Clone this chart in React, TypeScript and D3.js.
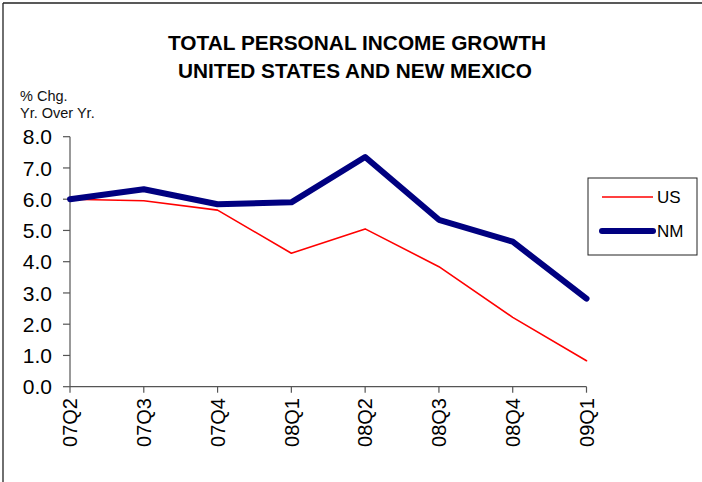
import React from "react";
import * as d3 from "d3";

const quarters = ["07Q2", "07Q3", "07Q4", "08Q1", "08Q2", "08Q3", "08Q4", "09Q1"];
const usValues = [6.0, 5.95, 5.65, 4.27, 5.05, 3.84, 2.22, 0.83];
const nmValues = [6.0, 6.32, 5.84, 5.9, 7.35, 5.34, 4.64, 2.82];
const yTicks = [0, 1, 2, 3, 4, 5, 6, 7, 8];
const titleLines = ["TOTAL PERSONAL INCOME GROWTH", "UNITED STATES AND NEW MEXICO"];
const seriesNames = ["US", "NM"];

const W = 702;
const H = 482;
const FONT = "'Liberation Sans', Arial, sans-serif";

export default function App() {
  const x = d3.scalePoint<string>().domain(quarters).range([70, 586.5]);
  const y = d3.scaleLinear().domain([0, 8]).range([386.7, 136.7]);
  const line = d3
    .line<number>()
    .x((_, i) => x(quarters[i]) as number)
    .y((d) => y(d));

  const series = [
    { name: seriesNames[0], values: usValues, color: "#FF0000", width: 1.6 },
    { name: seriesNames[1], values: nmValues, color: "#000080", width: 6 },
  ];

  return (
    <svg
      width={W}
      height={H}
      style={{ position: "absolute", left: 0, top: 0, background: "#fff" }}
      fontFamily={FONT}
    >
      <rect x={0} y={0} width={W} height={H} fill="#fff" />
      {/* frame */}
      <line x1={3} y1={3} x2={W} y2={3} stroke="#222" strokeWidth={1.3} />
      <line x1={3} y1={3} x2={3} y2={H} stroke="#222" strokeWidth={1.3} />

      {/* title */}
      <text x={357} y={50} textAnchor="middle" fontWeight="bold" fontSize={20} textLength={378} lengthAdjust="spacingAndGlyphs">
        {titleLines[0]}
      </text>
      <text x={355} y={78.3} textAnchor="middle" fontWeight="bold" fontSize={20} textLength={354} lengthAdjust="spacingAndGlyphs">
        {titleLines[1]}
      </text>

      {/* y axis caption */}
      <text x={20} y={101} fontSize={14.5} fill="#111">% Chg.</text>
      <text x={20} y={117.5} fontSize={14.5} fill="#111">Yr. Over Yr.</text>

      {/* y axis */}
      <line x1={70} y1={y(8)} x2={70} y2={y(0)} stroke="#555" strokeWidth={1.2} />
      {yTicks.map((t) => (
        <g key={t}>
          <line x1={63} x2={70} y1={y(t)} y2={y(t)} stroke="#555" strokeWidth={1.2} />
          <text x={52} y={y(t)} dy="0.36em" textAnchor="end" fontSize={21} fill="#000">
            {t.toFixed(1)}
          </text>
        </g>
      ))}

      {/* x axis */}
      <line x1={70} y1={y(0)} x2={586.5} y2={y(0)} stroke="#555" strokeWidth={1.2} />
      {quarters.map((q) => {
        const xv = x(q) as number;
        return (
          <g key={q}>
            <line x1={xv} x2={xv} y1={y(0)} y2={y(0) + 6} stroke="#555" strokeWidth={1.2} />
            <text
              transform={`translate(${xv},${398}) rotate(-90)`}
              dy="0.36em"
              textAnchor="end"
              fontSize={20}
              fill="#000"
            >
              {q}
            </text>
          </g>
        );
      })}

      {/* series */}
      {series.map((s) => (
        <path
          key={s.name}
          d={line(s.values) || ""}
          fill="none"
          stroke={s.color}
          strokeWidth={s.width}
          strokeLinejoin="round"
          strokeLinecap="round"
        />
      ))}

      {/* legend */}
      <rect x={588} y={178} width={109} height={77} fill="#fff" stroke="#222" strokeWidth={1} />
      {series.map((s, i) => {
        const ly = 197 + i * 34;
        return (
          <g key={s.name}>
            <line x1={602} x2={653} y1={ly} y2={ly} stroke={s.color} strokeWidth={s.width} strokeLinecap={i === 1 ? "round" : "butt"} />
            <text x={657} y={ly + 6} fontSize={17} fill="#000">
              {s.name}
            </text>
          </g>
        );
      })}
    </svg>
  );
}
